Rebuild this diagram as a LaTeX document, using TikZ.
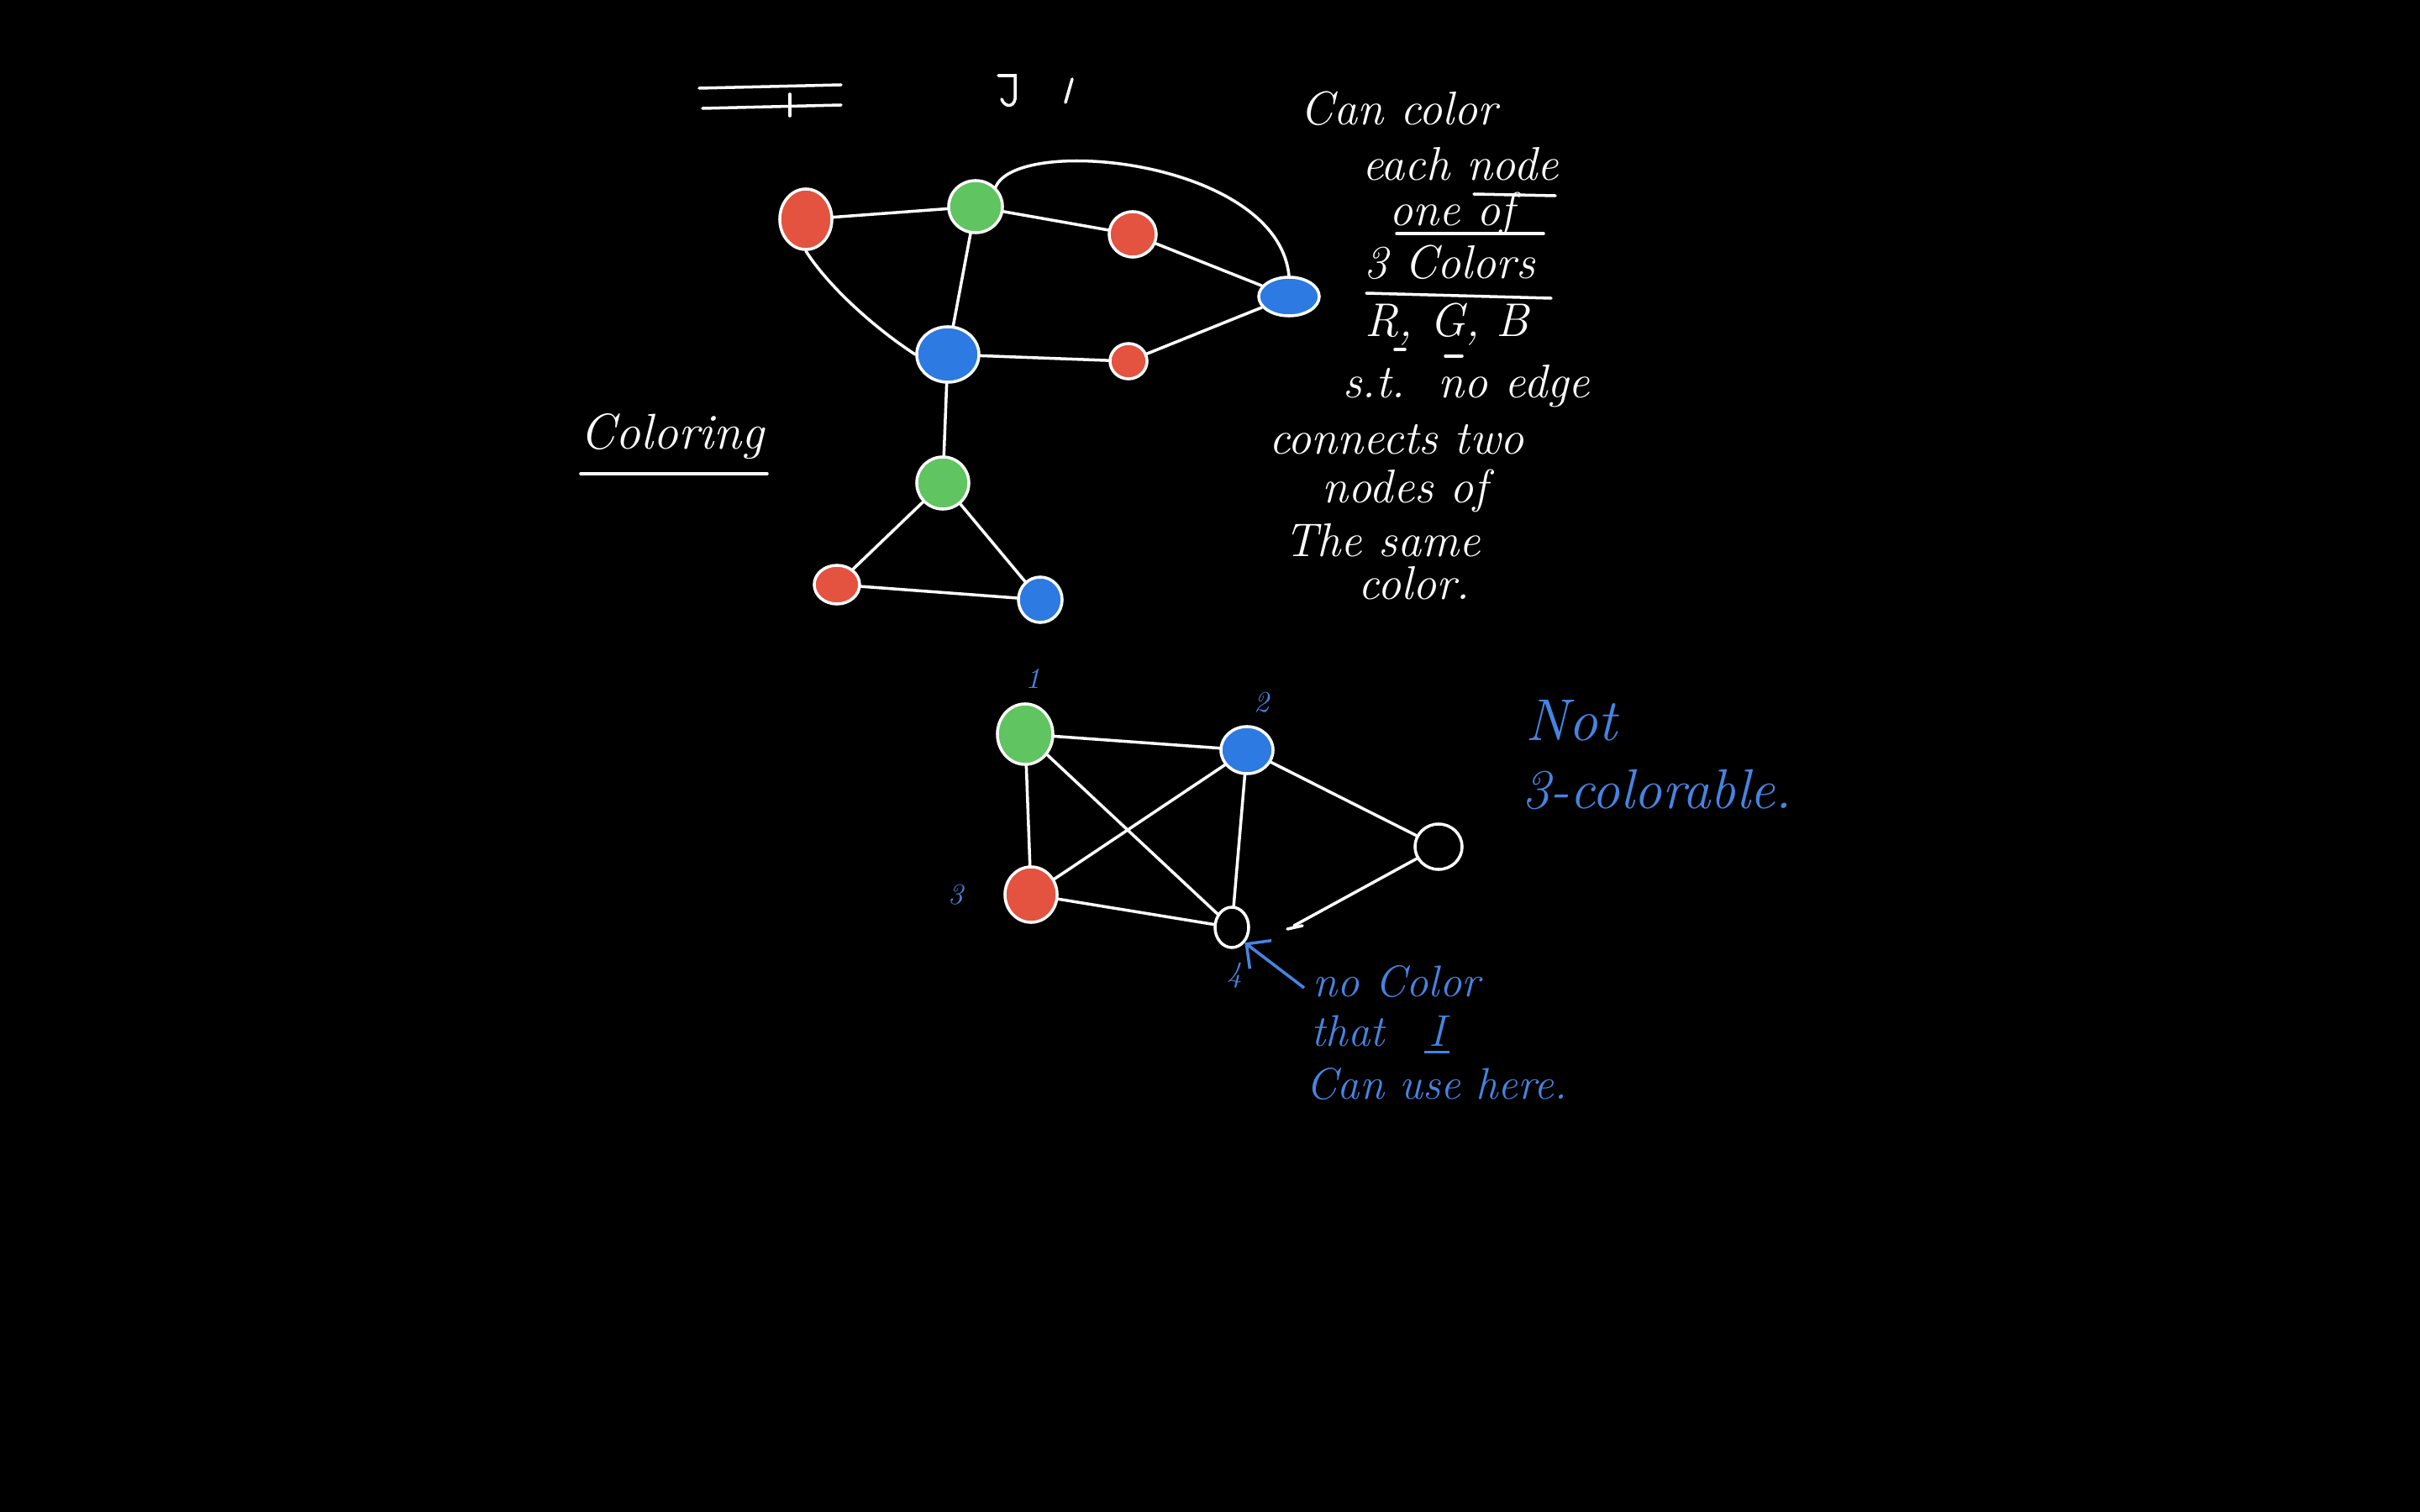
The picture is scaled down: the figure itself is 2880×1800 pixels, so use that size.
\documentclass[tikz,border=0pt]{standalone}
\usepackage{fontspec}
\usetikzlibrary{shapes.geometric,arrows.meta}
\definecolor{nred}{RGB}{228,82,64}
\definecolor{ngreen}{RGB}{96,196,96}
\definecolor{nblue}{RGB}{44,122,226}
\definecolor{ink}{RGB}{70,132,226}
\tikzset{
  vtx/.style={ellipse,draw=white,line width=1pt,inner sep=0pt},
  edge/.style={white,line width=1pt,line cap=round},
  wtext/.style={text=white,font=\fontsize{16}{18}\selectfont\itshape,inner sep=0pt},
  btext/.style={text=ink,font=\fontsize{15}{18}\selectfont\itshape,inner sep=0pt},
  numlab/.style={text=ink,font=\fontsize{10}{12}\selectfont\itshape,inner sep=0pt},
  uline/.style={white,line width=1pt,line cap=round},
}
\begin{document}
\begin{tikzpicture}[x=0.01cm,y=-0.01cm]
\fill[black] (0,0) rectangle (2880,1800);
\useasboundingbox (0,0) rectangle (2880,1800);
% top fragments
\draw[uline] (832,105) -- (1001,101);
\draw[uline] (836,129) -- (1001,125);
\draw[uline] (940,112) -- (940,138);
\draw[uline] (1188,90) -- (1208,90) -- (1208,118) .. controls (1206,128) and (1196,128) .. (1192,118);
\draw[uline] (1276,94) -- (1268,122);
% top graph nodes
\node[vtx,fill=nred,minimum width=0.62cm,minimum height=0.72cm] (A) at (959,261) {};
\node[vtx,fill=ngreen,minimum width=0.64cm,minimum height=0.62cm] (B) at (1161,246) {};
\node[vtx,fill=nred,minimum width=0.56cm,minimum height=0.54cm] (C) at (1348,279) {};
\node[vtx,fill=nblue,minimum width=0.72cm,minimum height=0.46cm] (D) at (1534,353) {};
\node[vtx,fill=nblue,minimum width=0.74cm,minimum height=0.66cm] (E) at (1128,422) {};
\node[vtx,fill=nred,minimum width=0.44cm,minimum height=0.42cm] (F) at (1343,430) {};
\node[vtx,fill=ngreen,minimum width=0.62cm,minimum height=0.62cm] (G) at (1122,575) {};
\node[vtx,fill=nred,minimum width=0.54cm,minimum height=0.46cm] (H) at (996,696) {};
\node[vtx,fill=nblue,minimum width=0.52cm,minimum height=0.54cm] (I) at (1238,714) {};
% top graph edges
\draw[edge] (A) -- (B);
\draw[edge] (B) -- (C);
\draw[edge] (C) -- (D);
\draw[edge] (B.north east) .. controls (1210,160) and (1520,190) .. (D.north);
\draw[edge] (A.south) .. controls (985,340) and (1040,390) .. (E.west);
\draw[edge] (B) -- (E);
\draw[edge] (E) -- (F);
\draw[edge] (F) -- (D);
\draw[edge] (E) -- (G);
\draw[edge] (G) -- (H);
\draw[edge] (G) -- (I);
\draw[edge] (H) -- (I);
% Coloring
\node[wtext,font=\fontsize{17}{20}\selectfont\itshape] (col) at (800,520) {Coloring};
\draw[uline] (691,564) -- (913,564);
% right text
\node[wtext] (t1) at (1665,129) {Can color};
\node[wtext] (t2) at (1738,195) {each node};
\draw[uline] (1754,231) -- (1851,233);
\node[wtext] (t3) at (1728,254) {one of};
\draw[uline] (1662,278) -- (1837,278);
\node[wtext] (t4) at (1725,312) {3 Colors};
\draw[uline] (1626,349) -- (1846,355);
\node[wtext] (t5) at (1722,386) {R, G, B};
\draw[uline] (1660,416) -- (1672,416);
\draw[uline] (1720,424) -- (1740,424);
\node[wtext] (t6) at (1745,460) {s.t.\ \ no edge};
\node[wtext] (t7) at (1662,523) {connects two};
\node[wtext] (t8) at (1672,584) {nodes of};
\node[wtext] (t9) at (1645,643) {The same};
\node[wtext] (t10) at (1683,694) {color.};
% bottom graph nodes
\node[vtx,fill=ngreen,minimum width=0.66cm,minimum height=0.72cm] (n1) at (1220,874) {};
\node[vtx,fill=nblue,minimum width=0.62cm,minimum height=0.56cm] (n2) at (1484,893) {};
\node[vtx,fill=nred,minimum width=0.62cm,minimum height=0.66cm] (n3) at (1227,1065) {};
\node[vtx,fill=black,minimum width=0.40cm,minimum height=0.48cm] (n4) at (1466,1104) {};
\node[vtx,fill=black,minimum width=0.56cm,minimum height=0.54cm] (n5) at (1712,1008) {};
\node[numlab] (l1) at (1229,808) {1};
\node[numlab] (l2) at (1501,836) {2};
\node[numlab] (l3) at (1137,1065) {3};
\node[numlab] (l4) at (1469,1161) {4};
% bottom graph edges
\draw[edge] (n1) -- (n2);
\draw[edge] (n1) -- (n3);
\draw[edge] (n1) -- (n4);
\draw[edge] (n2) -- (n3);
\draw[edge] (n2) -- (n4);
\draw[edge] (n2) -- (n5);
\draw[edge] (n3) -- (n4);
\coordinate (g5) at (1540,1102);
\draw[edge] (n5) -- (g5);
\draw[edge] (1532,1106) -- (1550,1102);
% arrow
\coordinate (ar) at (1552,1176);
\draw[ink,line width=1pt,-{Straight Barb[length=6pt]}] (ar) -- (n4.south east);
% blue text
\node[btext,font=\fontsize{20}{22}\selectfont\itshape] (not) at (1870,858) {Not};
\node[btext,font=\fontsize{19}{22}\selectfont\itshape] (tc) at (1972,940) {3-colorable.};
\node[btext] (b1) at (1662,1168) {no Color};
\node[btext,anchor=west] (b2) at (1560,1227) {that\quad I};
\draw[ink,line width=1pt] (b2.south east) ++(-26,6) -- ++(30,0);
\node[btext] (b3) at (1710,1290) {Can use here.};
\end{tikzpicture}
\end{document}
